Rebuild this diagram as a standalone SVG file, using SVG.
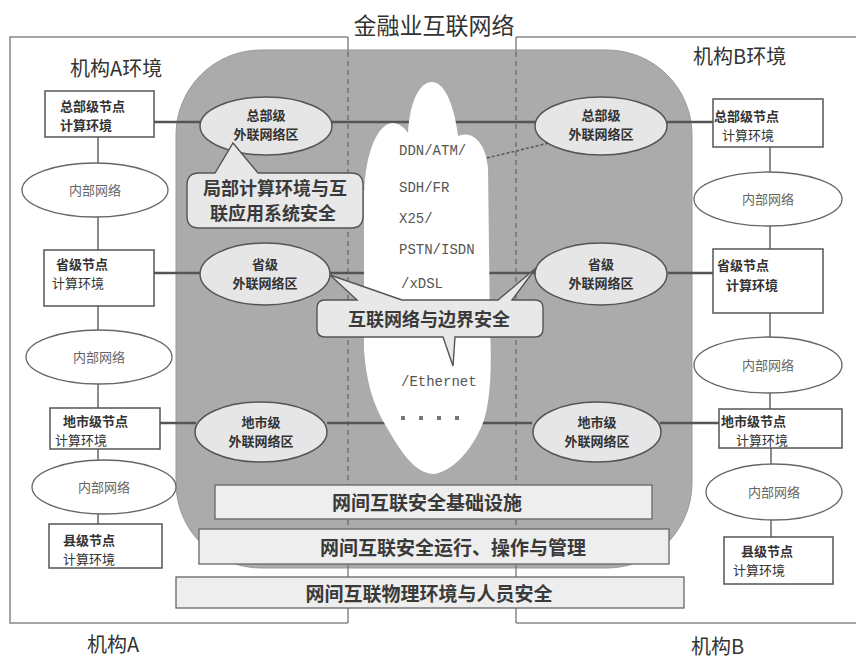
<svg xmlns="http://www.w3.org/2000/svg" width="856" height="660" viewBox="0 0 856 660">
<defs>
<style>
.cjk{font-family:"Noto Sans CJK SC","Noto Sans",sans-serif;fill:#333}
.ttl{font-size:23px}
.org{font-size:20px}
.nb{font-size:13px;font-weight:700}
.nr{font-size:13px}
.gray{fill:#666}
.big{font-size:18px;font-weight:700;fill:#3a3a3a}
.bar{font-size:19px;font-weight:700;fill:#3a3a3a}
.mono{font-family:"Liberation Mono","DejaVu Sans Mono",monospace;font-size:14px;fill:#555}
.box{fill:#fff;stroke:#555;stroke-width:1.5}
.ext{fill:#e6e6e6;stroke:#555;stroke-width:1.5}
.int{fill:#fff;stroke:#666;stroke-width:1.3}
.vl{stroke:#666;stroke-width:1.5;fill:none}
.hl{stroke:#555;stroke-width:2.5;fill:none}
.frame{stroke:#888;stroke-width:1.5;fill:none}
.dash{stroke:#666;stroke-width:1.2;fill:none;stroke-dasharray:5 4}
.barr{fill:#eeeeee;stroke:#666;stroke-width:1.3}
.call{fill:#e8e8e8;stroke:#555;stroke-width:1.4}
</style>
</defs>
<rect width="856" height="660" fill="#fff"/>
<text class="cjk ttl" x="434" y="34" text-anchor="middle">金融业互联网络</text>
<g id="orgA-frame">
<path class="frame" d="M348,37 L10,37 L10,623 L348,623"/>
<text class="cjk org" x="70" y="76">机构A环境</text>
<text class="cjk org" x="87" y="652">机构A</text>
</g>
<g id="orgB-frame">
<path class="frame" d="M856,37 L516,37 M516,623 L856,623"/>
<text class="cjk org" x="693" y="64">机构B环境</text>
<text class="cjk org" x="691" y="654">机构B</text>
</g>
<g id="financial-network">
<rect x="176" y="50" width="516" height="518" rx="85" fill="#ababab" stroke="#999" stroke-width="1"/>
</g>
<g id="boundaries">
<path class="frame" d="M348,37 L348,52 M348,568 L348,623 M516,37 L516,52 M516,568 L516,623"/>
<path class="dash" d="M348,52 L348,568 M516,52 L516,568"/>
</g>
<g id="connectors">
<path class="hl" d="M154,122 L200,122 M332,122 L535,122 M667,122 L713,122"/>
<path class="hl" d="M154,273 L200,273 M330,273 L535,273 M668,273 L713,273"/>
<path class="hl" d="M160,423 L196,423 M327,423 L532,423 M660,423 L719,423"/>
<path class="vl" d="M98,137 L98,164 M98,217 L98,250 M98,306 L98,330 M98,384 L98,408 M98,449 L98,460 M98,514 L98,524"/>
<path class="vl" d="M770,147 L770,172 M770,226 L770,249 M770,313 L770,337 M770,393 L770,409 M771,448 L771,464 M771,520 L771,537"/>
<path d="M487,158 L553,142" stroke="#555" stroke-width="1.5" stroke-dasharray="3 2" fill="none"/>
<path d="M363,189 L372,186" stroke="#666" stroke-width="1.5" fill="none"/>
</g>
<g id="cloud">
<path d="M432,82 C446,82 455,110 458,136 C472,130 486,142 488,168 L490,330 C492,372 490,400 484,420 C475,446 455,470 435,474 C414,474 400,450 386,426 C373,405 366,380 364,350 L364,200 C364,160 375,125 392,123 C399,123 405,128 408,133 C410,100 420,82 432,82 Z" fill="#fff"/>
<text class="mono" x="399" y="155">DDN/ATM/</text>
<text class="mono" x="399" y="192">SDH/FR</text>
<text class="mono" x="399" y="223">X25/</text>
<text class="mono" x="399" y="254">PSTN/ISDN</text>
<text class="mono" x="401" y="288">/xDSL</text>
<text class="mono" x="401" y="386">/Ethernet</text>
<g fill="#777"><rect x="401" y="416" width="4" height="4"/><rect x="419" y="416" width="4" height="4"/><rect x="437" y="416" width="4" height="4"/><rect x="455" y="416" width="4" height="4"/></g>
</g>
<g id="A-hq">
<rect class="box" x="45" y="91" width="109" height="46"/>
<text class="cjk nb" x="60" y="111">总部级节点</text>
<text class="cjk nb" x="60" y="130">计算环境</text>
</g>
<g id="A-net1">
<ellipse class="int" cx="95" cy="190" rx="73" ry="27"/>
<text class="cjk nr gray" x="95" y="195" text-anchor="middle">内部网络</text>
</g>
<g id="A-prov">
<rect class="box" x="44" y="250" width="110" height="56"/>
<text class="cjk nb" x="56" y="269">省级节点</text>
<text class="cjk nr" x="52" y="288">计算环境</text>
</g>
<g id="A-net2">
<ellipse class="int" cx="99" cy="357" rx="73" ry="27"/>
<text class="cjk nr gray" x="99" y="362" text-anchor="middle">内部网络</text>
</g>
<g id="A-city">
<rect class="box" x="50" y="408" width="110" height="41"/>
<text class="cjk nb" x="63" y="426">地市级节点</text>
<text class="cjk nr" x="55" y="445">计算环境</text>
</g>
<g id="A-net3">
<ellipse class="int" cx="104" cy="487" rx="72" ry="27"/>
<text class="cjk nr gray" x="104" y="492" text-anchor="middle">内部网络</text>
</g>
<g id="A-county">
<rect class="box" x="49" y="524" width="113" height="44"/>
<text class="cjk nb" x="63" y="545">县级节点</text>
<text class="cjk nr" x="63" y="564">计算环境</text>
</g>
<g id="A-hq-ext">
<ellipse class="ext" cx="266" cy="126" rx="66" ry="29"/>
<text class="cjk nb" x="266" y="120" text-anchor="middle">总部级</text>
<text class="cjk nb" x="266" y="139" text-anchor="middle">外联网络区</text>
</g>
<g id="A-prov-ext">
<ellipse class="ext" cx="265" cy="274" rx="65" ry="31"/>
<text class="cjk nb" x="265" y="269" text-anchor="middle">省级</text>
<text class="cjk nb" x="265" y="288" text-anchor="middle">外联网络区</text>
</g>
<g id="A-city-ext">
<ellipse class="ext" cx="261" cy="432" rx="66" ry="30"/>
<text class="cjk nb" x="261" y="427" text-anchor="middle">地市级</text>
<text class="cjk nb" x="261" y="446" text-anchor="middle">外联网络区</text>
</g>
<g id="B-hq-ext">
<ellipse class="ext" cx="601" cy="126" rx="66" ry="29"/>
<text class="cjk nb" x="601" y="120" text-anchor="middle">总部级</text>
<text class="cjk nb" x="601" y="139" text-anchor="middle">外联网络区</text>
</g>
<g id="B-prov-ext">
<ellipse class="ext" cx="601" cy="274" rx="66" ry="31"/>
<text class="cjk nb" x="601" y="269" text-anchor="middle">省级</text>
<text class="cjk nb" x="601" y="288" text-anchor="middle">外联网络区</text>
</g>
<g id="B-city-ext">
<ellipse class="ext" cx="597" cy="432" rx="64" ry="30"/>
<text class="cjk nb" x="597" y="427" text-anchor="middle">地市级</text>
<text class="cjk nb" x="597" y="446" text-anchor="middle">外联网络区</text>
</g>
<g id="B-hq">
<rect class="box" x="713" y="99" width="110" height="48"/>
<text class="cjk nb" x="714" y="121">总部级节点</text>
<text class="cjk nr" x="722" y="140">计算环境</text>
</g>
<g id="B-net1">
<ellipse class="int" cx="768" cy="199" rx="74" ry="27"/>
<text class="cjk nr gray" x="768" y="204" text-anchor="middle">内部网络</text>
</g>
<g id="B-prov">
<rect class="box" x="713" y="249" width="110" height="64"/>
<text class="cjk nb" x="717" y="270">省级节点</text>
<text class="cjk nb" x="726" y="290">计算环境</text>
</g>
<g id="B-net2">
<ellipse class="int" cx="768" cy="365" rx="74" ry="28"/>
<text class="cjk nr gray" x="768" y="370" text-anchor="middle">内部网络</text>
</g>
<g id="B-city">
<rect class="box" x="719" y="409" width="123" height="39"/>
<text class="cjk nb" x="721" y="426">地市级节点</text>
<text class="cjk nr" x="736" y="445">计算环境</text>
</g>
<g id="B-net3">
<ellipse class="int" cx="774" cy="492" rx="68" ry="28"/>
<text class="cjk nr gray" x="774" y="497" text-anchor="middle">内部网络</text>
</g>
<g id="B-county">
<rect class="box" x="724" y="537" width="109" height="47"/>
<text class="cjk nb" x="741" y="556">县级节点</text>
<text class="cjk nr" x="733" y="575">计算环境</text>
</g>
<g id="callout-local">
<path class="call" d="M199,173 L215,173 L233,143 L258,173 L351,173 Q363,173 363,185 L363,216 Q363,228 351,228 L199,228 Q187,228 187,216 L187,185 Q187,173 199,173 Z"/>
<text class="cjk big" x="275" y="195" text-anchor="middle">局部计算环境与互</text>
<text class="cjk big" x="273" y="220" text-anchor="middle">联应用系统安全</text>
</g>
<g id="callout-boundary">
<path class="call" d="M325,300 L357,300 L330,275 L402,300 L498,300 L536,268 L512,300 L535,300 Q543,300 543,308 L543,329 Q543,337 535,337 L455,337 L453,366 L443,337 L325,337 Q317,337 317,329 L317,308 Q317,300 325,300 Z"/>
<text class="cjk big" x="429" y="326" text-anchor="middle" font-size="20">互联网络与边界安全</text>
</g>
<g id="bar-infra">
<rect class="barr" x="215" y="485" width="437" height="34"/>
<text class="cjk bar" x="427" y="510" text-anchor="middle">网间互联安全基础设施</text>
</g>
<g id="bar-ops">
<rect class="barr" x="199" y="529" width="470" height="35"/>
<text class="cjk bar" x="453" y="555" text-anchor="middle">网间互联安全运行、操作与管理</text>
</g>
<g id="bar-phys">
<rect class="barr" x="176" y="577" width="508" height="31"/>
<text class="cjk bar" x="429" y="601" text-anchor="middle">网间互联物理环境与人员安全</text>
</g>
</svg>
